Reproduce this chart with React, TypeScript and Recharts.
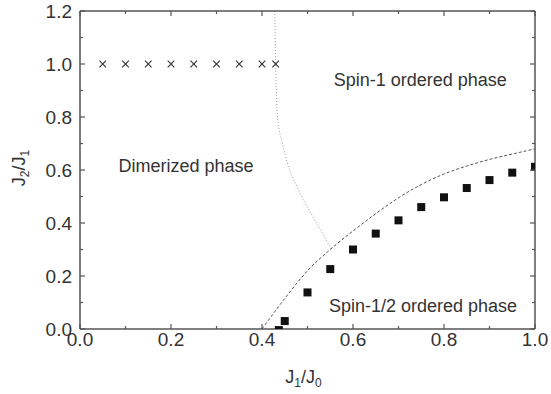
import { ComposedChart, Line, ReferenceDot, Scatter, XAxis, YAxis } from 'recharts'

// J1/J0 values of the dimerized-phase crosses (all at J2/J1 = 1)
const crossX = [0.05, 0.1, 0.15, 0.2, 0.25, 0.3, 0.35, 0.4, 0.43]
const crossY = [1, 1, 1, 1, 1, 1, 1, 1, 1]

// filled squares
const squareX = [0.437, 0.45, 0.5, 0.55, 0.6, 0.65, 0.7, 0.75, 0.8, 0.85, 0.9, 0.95, 1.0]
const squareY = [-0.004, 0.03, 0.138, 0.226, 0.3, 0.36, 0.41, 0.46, 0.497, 0.532, 0.562, 0.59, 0.612]

// dotted boundary (dimerized / spin-1)
const dottedX = [0.428, 0.43, 0.434, 0.445, 0.455, 0.48, 0.513, 0.535, 0.553]
const dottedY = [1.2, 1.0, 0.8, 0.7, 0.63, 0.525, 0.42, 0.355, 0.298]

// dashed boundary (spin-1 / spin-1/2)
const dashedX = [0.4, 0.45, 0.5, 0.55, 0.6, 0.65, 0.7, 0.75, 0.8, 0.85, 0.9, 0.95, 1.0]
const dashedY = [0, 0.115, 0.22, 0.3, 0.37, 0.435, 0.495, 0.545, 0.585, 0.615, 0.64, 0.66, 0.68]

const xMajor = [0, 0.2, 0.4, 0.6, 0.8, 1.0]
const xMinor = [0.1, 0.3, 0.5, 0.7, 0.9]
const yMajor = [0, 0.2, 0.4, 0.6, 0.8, 1.0, 1.2]
const yMinor = [0.1, 0.3, 0.5, 0.7, 0.9, 1.1]

const phaseNames = ['Dimerized phase', 'Spin-1 ordered phase', 'Spin-1/2 ordered phase']
const phaseX = [0.233, 0.748, 0.754]
const phaseY = [0.592, 0.917, 0.064]

const FONT = '"Liberation Sans", Arial, Helvetica, sans-serif'
const INK = '#333'
const AXIS = '#555'

const W = 551
const H = 394
const MARGIN = { top: 11, right: 16, bottom: 25, left: 20 }
const X_AXIS_H = 40
const Y_AXIS_W = 60
const PLOT_TOP = MARGIN.top
const PLOT_BOTTOM = H - MARGIN.bottom - X_AXIS_H
const PLOT_LEFT = MARGIN.left + Y_AXIS_W
const PLOT_RIGHT = W - MARGIN.right

const zip = (xs: number[], ys: number[]) => xs.map((x, i) => ({ x, y: ys[i] }))

const crosses = zip(crossX, crossY)
const squares = zip(squareX, squareY)
const dotted = zip(dottedX, dottedY)
const dashed = zip(dashedX, dashedY)

const xTicks = [...xMajor, ...xMinor].sort((a, b) => a - b)
const yTicks = [...yMajor, ...yMinor].sort((a, b) => a - b)

const Cross = (p: any) => {
  const s = 3.3
  return (
    <g stroke="#333" strokeWidth={1.1}>
      <line x1={p.cx - s} y1={p.cy - s} x2={p.cx + s} y2={p.cy + s} />
      <line x1={p.cx - s} y1={p.cy + s} x2={p.cx + s} y2={p.cy - s} />
    </g>
  )
}

const Square = (p: any) => <rect x={p.cx - 4} y={p.cy - 4} width={8} height={8} fill="#111" />

// tick labels plus inward tick marks on both opposite sides of the frame
const XTick = (p: any) => {
  const v = p.payload.value
  const major = xMajor.includes(v)
  const len = major ? 5 : 3
  return (
    <g>
      <line x1={p.x} x2={p.x} y1={PLOT_BOTTOM} y2={PLOT_BOTTOM - len} stroke={AXIS} strokeWidth={1.2} />
      <line x1={p.x} x2={p.x} y1={PLOT_TOP} y2={PLOT_TOP + len} stroke={AXIS} strokeWidth={1.2} />
      {major && (
        <text x={p.x} y={p.y} dy="0.75em" textAnchor="middle" fill={INK} fontSize={19} fontFamily={FONT}>
          {v.toFixed(1)}
        </text>
      )}
    </g>
  )
}

const YTick = (p: any) => {
  const v = p.payload.value
  const major = yMajor.includes(v)
  const len = major ? 5 : 3
  return (
    <g>
      <line x1={PLOT_LEFT} x2={PLOT_LEFT + len} y1={p.y} y2={p.y} stroke={AXIS} strokeWidth={1.2} />
      <line x1={PLOT_RIGHT} x2={PLOT_RIGHT - len} y1={p.y} y2={p.y} stroke={AXIS} strokeWidth={1.2} />
      {major && (
        <text x={p.x} y={p.y} dy="0.35em" textAnchor="end" fill={INK} fontSize={19} fontFamily={FONT}>
          {v.toFixed(1)}
        </text>
      )}
    </g>
  )
}

const XTitle = () => (
  <text x={(PLOT_LEFT + PLOT_RIGHT) / 2 - 4} y={PLOT_BOTTOM + 54} textAnchor="middle" fill={INK} fontSize={18} fontFamily={FONT}>
    J<tspan dy={4} fontSize={12}>1</tspan>
    <tspan dy={-4}>/J</tspan>
    <tspan dy={4} fontSize={12}>0</tspan>
  </text>
)

const YTitle = () => {
  const cx = MARGIN.left + 5
  const cy = (PLOT_TOP + PLOT_BOTTOM) / 2 - 2
  return (
    <text transform={`translate(${cx},${cy}) rotate(-90)`} textAnchor="middle" fill={INK} fontSize={18} fontFamily={FONT}>
      J<tspan dy={4} fontSize={12}>2</tspan>
      <tspan dy={-4}>/J</tspan>
      <tspan dy={4} fontSize={12}>1</tspan>
    </text>
  )
}

export default function App() {
  return (
    <div style={{ position: 'absolute', left: 0, top: 0, width: W, height: H, background: '#fff' }}>
      <ComposedChart width={W} height={H} margin={MARGIN}>
        <XAxis xAxisId="b" dataKey="x" type="number" domain={[0, 1]} allowDataOverflow ticks={xTicks}
          tick={XTick} tickLine={false} tickSize={0} tickMargin={3} height={X_AXIS_H} interval={0}
          axisLine={{ stroke: AXIS, strokeWidth: 1.5 }} label={XTitle} />
        <YAxis yAxisId="l" dataKey="y" type="number" domain={[0, 1.2]} allowDataOverflow ticks={yTicks}
          tick={YTick} tickLine={false} tickSize={0} tickMargin={8} width={Y_AXIS_W} interval={0}
          axisLine={{ stroke: AXIS, strokeWidth: 1.5 }} label={YTitle} />

        {/* top and right frame lines */}
        <XAxis xAxisId="t" orientation="top" type="number" domain={[0, 1]} mirror height={1}
          tick={false} tickLine={false} axisLine={{ stroke: AXIS, strokeWidth: 1.5 }} />
        <YAxis yAxisId="r" orientation="right" type="number" domain={[0, 1.2]} mirror width={1}
          tick={false} tickLine={false} axisLine={{ stroke: AXIS, strokeWidth: 1.5 }} />

        <Line xAxisId="b" yAxisId="l" data={dotted} dataKey="y" type="monotone" stroke="#9a9a9a" strokeWidth={1}
          strokeDasharray="1 2" dot={false} activeDot={false} isAnimationActive={false} />
        <Line xAxisId="b" yAxisId="l" data={dashed} dataKey="y" type="monotone" stroke="#555" strokeWidth={1}
          strokeDasharray="3 2" dot={false} activeDot={false} isAnimationActive={false} />
        <Scatter xAxisId="b" yAxisId="l" data={crosses} dataKey="y" shape={Cross} isAnimationActive={false} />
        <Scatter xAxisId="b" yAxisId="l" data={squares} dataKey="y" shape={Square} isAnimationActive={false} />

        {phaseNames.map((name, i) => (
          <ReferenceDot key={name} xAxisId="b" yAxisId="l" x={phaseX[i]} y={phaseY[i]} r={0}
            shape={(p: any) => (
              <text x={p.cx} y={p.cy} textAnchor="middle" fill={INK} fontSize={18} fontFamily={FONT}>{name}</text>
            )} />
        ))}
      </ComposedChart>
    </div>
  )
}
